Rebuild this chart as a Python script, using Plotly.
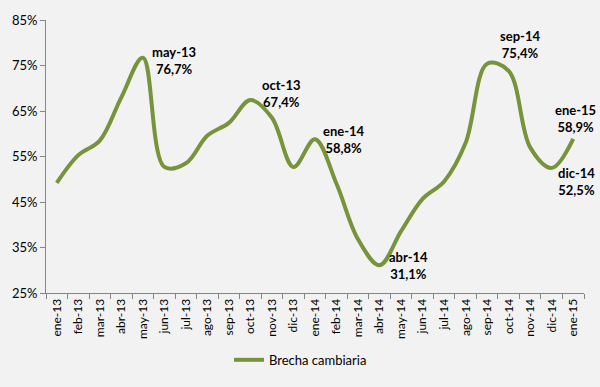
import plotly.graph_objects as go

months = ["ene-13", "feb-13", "mar-13", "abr-13", "may-13", "jun-13", "jul-13", "ago-13",
          "sep-13", "oct-13", "nov-13", "dic-13", "ene-14", "feb-14", "mar-14", "abr-14",
          "may-14", "jun-14", "jul-14", "ago-14", "sep-14", "oct-14", "nov-14", "dic-14", "ene-15"]
brecha = [49.2, 55.3, 58.5, 68.0, 76.7, 52.7, 53.5, 59.6, 62.4, 67.4, 63.5, 52.7, 58.8,
          49.0, 36.8, 31.1, 38.6, 45.7, 49.5, 58.0, 75.4, 73.8, 57.0, 52.5, 58.9]
y_ticks = [25, 35, 45, 55, 65, 75, 85]
y_labels = [f"{v}%" for v in y_ticks]

# labelled points: (month, xshift, yshift)
labelled = [("may-13", 31, -3), ("oct-13", 31, 7), ("ene-14", 29, 0), ("abr-14", 29, 0),
            ("sep-14", 33, 19), ("ene-15", 2, 20), ("dic-14", 25, -14)]

color = "#77933C"
bg = "#F2F2F2"
font = "Lato, Carlito, Calibri, sans-serif"

fig = go.Figure()
fig.add_trace(go.Scatter(
    x=months, y=brecha, mode="lines", name="Brecha cambiaria",
    line=dict(color=color, width=4, shape="spline", smoothing=1.0),
))

for m, dx, dy in labelled:
    v = brecha[months.index(m)]
    fig.add_annotation(
        x=m, y=v, xref="x", yref="y", showarrow=False,
        text=f"<b>{m}<br>{str(v).replace('.', ',')}%</b>",
        xshift=dx, yshift=dy, xanchor="center", yanchor="middle",
        font=dict(family=font, size=13, color="#000000"),
    )

fig.update_layout(
    width=600, height=387,
    margin=dict(l=45, r=16, t=16, b=90),
    paper_bgcolor=bg, plot_bgcolor=bg,
    font=dict(family=font, size=13, color="#000000"),
    showlegend=True,
    legend=dict(orientation="h", x=0.473, y=-0.245, xanchor="center", yanchor="middle",
                font=dict(family=font, size=13), bgcolor="rgba(0,0,0,0)"),
    xaxis=dict(
        type="category", range=[-0.5, len(months) - 0.5],
        showline=True, linecolor="#868686", linewidth=1,
        ticks="outside", tickson="boundaries", ticklen=5, tickcolor="#868686",
        tickangle=-90, tickfont=dict(size=12), showgrid=False, zeroline=False,
    ),
    yaxis=dict(
        range=[25, 85], tickmode="array", tickvals=y_ticks, ticktext=y_labels,
        showline=True, linecolor="#868686", linewidth=1,
        ticks="outside", ticklen=5, tickcolor="#868686",
        showgrid=False, zeroline=False, tickfont=dict(size=13),
    ),
)

fig.write_html("out.html", config={"displayModeBar": False},
               post_script="document.body.style.margin='0';document.body.style.overflow='hidden';")
